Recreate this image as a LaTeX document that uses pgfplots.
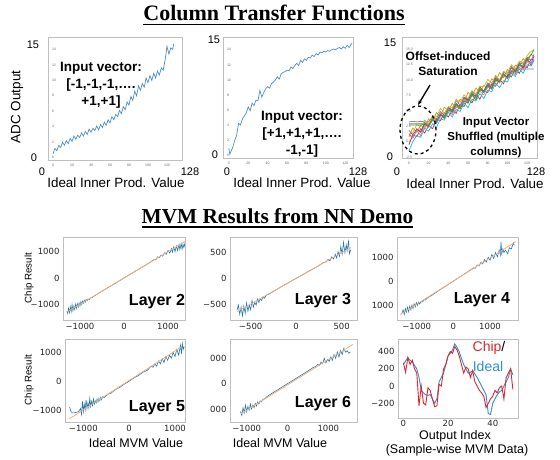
\documentclass[border=0pt]{standalone}
\usepackage{pgfplots}
\pgfplotsset{compat=1.18}
\usetikzlibrary{arrows.meta}
\usepackage{fontspec}
\setmainfont{Liberation Sans}
\newfontfamily\tnr{Liberation Serif}
\newfontfamily\dv{DejaVu Sans}
\definecolor{tblue}{HTML}{1F77B4}
\definecolor{lblue}{HTML}{4A8FC8}
\definecolor{torange}{HTML}{FF7F0E}
\definecolor{tgreen}{HTML}{2CA02C}
\definecolor{tred}{HTML}{D62728}
\definecolor{tpurple}{HTML}{9467BD}
\definecolor{tbrown}{HTML}{8C564B}
\definecolor{tpink}{HTML}{E377C2}
\definecolor{tgray}{HTML}{7F7F7F}
\definecolor{tolive}{HTML}{BCBD22}
\definecolor{tcyan}{HTML}{17BECF}
\definecolor{peach}{HTML}{F4B07A}
\definecolor{chipred}{HTML}{E0262E}
\definecolor{idealblue}{HTML}{2F8FCC}
\pgfplotsset{
  topax/.style={scale only axis, anchor=south west, axis line style={black!25},
    major tick length=0pt, /pgf/number format/assume math mode=true,
    tick label style={font=\fontsize{3.5}{4}\selectfont, text=black!60},
    yticklabel style={anchor=west, xshift=0.5pt},
    xticklabel style={yshift=-1pt}},
  botax/.style={scale only axis, anchor=south west, axis line style={black!25},
    major tick length=0pt,
    tick label style={font=\dv\fontsize{8.5}{9}\selectfont, text=black!85}},
  bl/.style={tblue, line width=0.6pt},
  or/.style={peach, line width=0.8pt},
  cl/.style={line width=0.7pt},
}
\begin{document}
\begin{tikzpicture}[x=1pt,y=1pt]
\useasboundingbox (0,0) rectangle (560,459);
% ---------- Panel 1 ----------
\begin{axis}[topax, at={(48pt,299pt)}, width=134pt, height=123pt,
  xmin=-5.3, xmax=135.8, ymin=-0.3, ymax=15.6,
  xtick={0,20,...,120}, ytick={0,2,...,14}]
\addplot[lblue, line width=0.7pt] coordinates {
(0,0.5)(2,1.2)(4,0.9)(6,1.6)(8,1.3)(10,2.0)(12,1.6)(14,2.2)(16,1.8)(18,2.5)
(20,2.1)(22,2.8)(24,2.4)(26,2.9)(28,2.6)(30,3.2)(32,2.8)(34,3.4)(36,3.0)(38,3.7)
(40,3.3)(42,3.8)(44,3.5)(46,4.1)(48,3.6)(50,4.3)(52,3.9)(54,4.6)(56,4.2)(58,4.9)
(60,4.5)(62,5.3)(64,4.9)(66,5.6)(68,5.3)(70,6.1)(72,5.7)(74,6.6)(76,6.2)(78,7.2)
(80,6.8)(82,7.9)(84,7.4)(86,8.6)(88,8.0)(90,9.3)(92,8.7)(94,9.6)(96,9.1)(98,10.3)
(100,9.7)(102,10.6)(104,10.0)(106,10.9)(108,10.3)(110,11.2)(112,10.7)(114,11.6)(116,11.3)(118,12.6)
(120,14.4)(122,13.4)(124,14.2)(126,14.0)(127,14.7)};
\end{axis}
% ---------- Panel 2 ----------
\begin{axis}[topax, at={(223pt,301pt)}, width=130pt, height=121pt,
  xmin=-6, xmax=128, ymin=-0.4, ymax=15.7,
  xtick={0,20,...,120}, ytick={0,2,...,14}]
\addplot[lblue, line width=0.7pt] coordinates {
(0,0.9)(1,0.1)(2,0.4)(4,1.0)(6,1.9)(8,2.6)(10,4.2)(12,4.0)(14,4.8)(16,5.2)(18,5.6)
(20,6.4)(22,5.9)(24,6.9)(26,6.6)(28,7.3)(30,7.2)(32,8.6)(34,7.7)(36,8.3)(38,8.8)
(40,9.1)(42,8.9)(44,9.5)(46,9.7)(48,10.0)(50,10.4)(52,10.1)(54,10.8)(56,11.0)(58,11.1)
(60,11.3)(62,11.2)(64,11.7)(66,11.5)(68,11.9)(70,12.2)(72,11.9)(74,12.6)(76,12.3)(78,12.8)
(80,12.6)(82,13.0)(84,12.9)(86,13.3)(88,13.1)(90,13.5)(92,13.3)(94,13.7)(96,13.6)(98,13.8)
(100,13.7)(102,13.9)(104,13.8)(106,14.0)(108,14.1)(110,14.0)(112,14.2)(114,14.3)(116,14.1)(118,14.4)
(120,14.2)(122,14.6)(124,14.3)(126,14.7)(127,14.9)};
\end{axis}
% ---------- Panel 3 ----------
\begin{axis}[topax, at={(402pt,301pt)}, width=135pt, height=121pt,
  xmin=-7, xmax=130, ymin=-2.66, ymax=17,
  xtick={0,20,...,120}, ytick={-2.5,0,2.5,...,15},
  yticklabel style={/pgf/number format/.cd, fixed, fixed zerofill, precision=1}]
\addplot[tblue, cl] coordinates {(0,1.3)(4,0.6)(8,1.9)(12,1.6)(16,3.1)(20,2.5)(24,3.7)(28,3.0)(32,4.3)(36,4.0)(40,5.5)(44,4.9)(48,6.0)(52,5.5)(56,7.0)(60,6.7)(64,8.0)(68,7.2)(72,8.5)(76,8.2)(80,9.5)(84,8.6)(88,10.0)(92,9.7)(96,11.0)(100,10.3)(104,11.5)(108,11.4)(112,12.8)(116,12.0)(120,13.3)(124,12.7)(127,13.9)};
\addplot[torange, cl] coordinates {(0,0.8)(4,2.2)(8,1.5)(12,2.7)(16,2.1)(20,3.7)(24,3.4)(28,4.7)(32,4.1)(36,5.6)(40,5.0)(44,6.2)(48,5.5)(52,6.9)(56,6.4)(60,8.0)(64,7.4)(68,8.7)(72,8.1)(76,9.1)(80,8.7)(84,10.2)(88,9.8)(92,11.2)(96,10.4)(100,11.7)(104,11.1)(108,12.4)(112,12.3)(116,13.5)(120,12.9)(124,14.2)(127,13.7)};
\addplot[tred, cl] coordinates {(0,-0.5)(4,1.1)(8,0.8)(12,2.1)(16,1.4)(20,2.6)(24,2.1)(28,3.7)(32,3.4)(36,4.7)(40,4.0)(44,5.1)(48,4.6)(52,6.1)(56,5.7)(60,7.0)(64,6.3)(68,7.6)(72,6.9)(76,8.3)(80,8.0)(84,9.4)(88,9.0)(92,10.1)(96,9.4)(100,10.8)(104,10.5)(108,11.9)(112,11.1)(116,12.3)(120,12.0)(124,13.4)(127,13.3)};
\addplot[tpurple, cl] coordinates {(0,3.2)(4,3.3)(8,3.2)(12,3.3)(16,3.2)(20,3.2)(24,4.1)(28,3.7)(32,4.9)(36,4.2)(40,5.5)(44,5.2)(48,6.7)(52,5.9)(56,7.2)(60,6.9)(64,8.2)(68,7.6)(72,8.9)(76,8.1)(80,9.5)(84,9.1)(88,10.6)(92,10.0)(96,11.3)(100,10.9)(104,12.2)(108,11.5)(112,12.8)(116,12.6)(120,13.7)(124,13.2)(127,14.2)};
\addplot[tbrown, cl] coordinates {(0,1.8)(4,1.1)(8,2.1)(12,1.5)(16,2.8)(20,2.4)(24,4.0)(28,3.4)(32,4.4)(36,4.0)(40,5.5)(44,5.1)(48,6.2)(52,5.5)(56,7.2)(60,6.8)(64,7.7)(68,7.3)(72,8.9)(76,8.2)(80,9.2)(84,8.8)(88,10.3)(92,9.9)(96,11.0)(100,10.5)(104,12.0)(108,11.4)(112,12.5)(116,11.9)(120,13.5)(124,12.4)(127,13.2)};
\addplot[tgray, cl] coordinates {(0,2.9)(4,2.9)(8,2.9)(12,2.9)(16,2.9)(20,2.9)(24,3.5)(28,3.3)(32,4.5)(36,4.0)(40,5.4)(44,4.7)(48,5.9)(52,5.4)(56,6.9)(60,6.5)(64,7.6)(68,7.1)(72,8.6)(76,8.0)(80,9.1)(84,8.6)(88,10.1)(92,9.7)(96,10.8)(100,10.3)(104,11.5)(108,11.4)(112,11.8)(116,11.8)(120,11.8)(124,11.8)(127,11.8)};
\addplot[tcyan, cl] coordinates {(0,-1.5)(4,0.0)(8,1.0)(12,0.7)(16,2.2)(20,1.7)(24,2.9)(28,2.3)(32,3.7)(36,3.5)(40,4.8)(44,4.0)(48,5.2)(52,4.9)(56,6.3)(60,5.5)(64,6.9)(68,6.6)(72,7.8)(76,7.0)(80,8.4)(84,8.1)(88,9.5)(92,8.8)(96,9.9)(100,9.7)(104,11.1)(108,10.6)(112,11.8)(116,11.1)(120,12.5)(124,12.3)(127,13.3)};
\addplot[tolive, cl] coordinates {(0,1.7)(4,1.4)(8,2.8)(12,2.4)(16,3.5)(20,2.8)(24,4.2)(28,4.0)(32,5.4)(36,4.6)(40,5.7)(44,5.5)(48,6.9)(52,6.4)(56,7.6)(60,7.0)(64,8.3)(68,7.7)(72,9.0)(76,8.9)(80,10.1)(84,9.5)(88,10.8)(92,10.0)(96,11.4)(100,11.2)(104,12.5)(108,11.8)(112,13.1)(116,12.8)(120,14.0)(124,14.7)(127,14.8)};
\addplot[tpink, cl] coordinates {(0,1.1)(4,0.6)(8,1.8)(12,1.0)(16,2.5)(20,2.3)(24,3.5)(28,2.9)(32,4.1)(36,3.8)(40,5.1)(44,4.4)(48,5.6)(52,5.5)(56,6.9)(60,6.2)(64,7.5)(68,7.2)(72,8.2)(76,7.6)(80,8.9)(84,8.5)(88,9.8)(92,9.5)(96,10.8)(100,10.2)(104,11.2)(108,10.9)(112,12.1)(116,11.6)(120,13.0)(124,12.7)(127,13.5)};
\addplot[tgreen, cl] coordinates {(0,2.7)(4,2.7)(8,2.7)(12,2.7)(16,2.8)(20,2.7)(24,3.5)(28,3.2)(32,4.5)(36,3.8)(40,5.1)(44,4.9)(48,6.2)(52,5.3)(56,6.6)(60,6.3)(64,7.6)(68,6.8)(72,8.5)(76,8.0)(80,9.1)(84,8.6)(88,10.1)(92,9.7)(96,11.0)(100,10.3)(104,11.4)(108,11.1)(112,12.4)(116,12.4)(120,13.5)(124,14.1)(127,15.0)};
\end{axis}
% ---------- Layer 2 ----------
\begin{axis}[botax, at={(63pt,139pt)}, width=122pt, height=83pt,
  xmin=-1386, xmax=1386, ymin=-1597, ymax=1559,
  xtick={-1000,0,1000}, xticklabels={−1000,0,1000},
  ytick={-1000,0,1000}, yticklabels={−1000,0,1000}]
\addplot[bl] coordinates {
(-1300,-1250)(-1280,-1350)(-1260,-1150)(-1240,-1320)(-1220,-1100)(-1200,-1280)(-1180,-1020)(-1160,-1250)
(-1140,-1080)(-1120,-1190)(-1100,-1000)(-1080,-1150)(-1060,-980)(-1040,-1100)(-1020,-950)(-1000,-1060)
(-980,-900)(-960,-1010)(-940,-880)(-920,-960)(-900,-850)(-880,-920)(-860,-820)(-840,-870)(-820,-800)
(-800,-830)(-760,-760)(-720,-740)(-680,-690)(-500,-500)(-200,-205)(0,0)(200,205)(400,400)(600,600)
(640,660)(680,700)(720,690)(760,800)(800,780)(840,870)(880,830)(920,960)(960,900)(1000,1050)
(1040,950)(1080,1120)(1100,980)(1130,1180)(1160,1000)(1190,1220)(1220,1050)(1250,1280)(1270,1080)
(1300,1300)(1320,1100)(1340,1280)(1360,1160)(1380,1300)(1400,1180)(1420,1250)};
\addplot[or] coordinates {(-1300,-1300)(1450,1450)};
\end{axis}
% ---------- Layer 3 ----------
\begin{axis}[botax, at={(230pt,139pt)}, width=127pt, height=83pt,
  xmin=-727, xmax=668, ymin=-812, ymax=806,
  xtick={-500,0,500}, xticklabels={−500,0,500},
  ytick={-500,0,500}, yticklabels={−500,0,500}]
\addplot[bl] coordinates {
(-650,-620)(-635,-520)(-620,-700)(-605,-560)(-590,-730)(-575,-540)(-560,-680)(-545,-480)(-530,-640)
(-515,-520)(-500,-610)(-485,-430)(-470,-560)(-455,-470)(-440,-520)(-425,-400)(-410,-470)(-395,-400)
(-380,-430)(-365,-360)(-350,-390)(-330,-330)(-300,-310)(-250,-255)(-150,-150)(0,0)(150,150)(250,250)
(300,310)(330,320)(350,370)(370,340)(390,420)(410,380)(430,470)(445,400)(460,520)(475,430)(490,620)
(505,470)(520,700)(535,500)(550,650)(560,540)(575,720)(585,480)(600,560)};
\addplot[or] coordinates {(-650,-650)(600,600)};
\end{axis}
% ---------- Layer 4 ----------
\begin{axis}[botax, at={(397pt,139pt)}, width=121pt, height=83pt,
  xmin=-1537, xmax=1763, ymin=-1629, ymax=1851,
  xtick={-1000,0,1000}, xticklabels={−1000,0,1000},
  ytick={-1000,0,1000}, yticklabels={1000,0,1000}]
\addplot[bl] coordinates {
(-1400,-1350)(-1370,-1200)(-1340,-1400)(-1310,-1150)(-1280,-1300)(-1250,-1100)(-1220,-1280)(-1190,-1050)
(-1160,-1200)(-1130,-1000)(-1100,-1150)(-1070,-950)(-1040,-1080)(-1010,-900)(-980,-1020)(-950,-880)
(-920,-960)(-880,-860)(-840,-870)(-800,-780)(-760,-790)(-700,-690)(-600,-610)(-400,-395)(-200,-200)
(0,0)(200,200)(400,400)(550,560)(600,540)(650,680)(700,640)(750,780)(800,720)(850,900)(900,800)
(950,1000)(1000,880)(1050,1120)(1100,950)(1150,1200)(1200,1020)(1250,1300)(1280,1100)(1300,1650)
(1320,1150)(1350,1350)(1380,1200)(1420,1300)(1480,1150)(1530,1400)(1580,1350)(1640,1600)(1660,1500)};
\addplot[or] coordinates {(-1450,-1400)(1700,1650)};
\end{axis}
% ---------- Layer 5 ----------
\begin{axis}[botax, at={(65pt,37pt)}, width=120pt, height=83pt,
  xmin=-1400, xmax=1218, ymin=-1416, ymax=1461,
  xtick={-1000,0,1000}, xticklabels={−1000,0,1000},
  ytick={-1000,0,1000}, yticklabels={−1000,0,1000}]
\addplot[bl] coordinates {
(-1300,-900)(-1270,-1050)(-1240,-1100)(-1200,-1100)(-1150,-1080)(-1100,-1050)(-1060,-950)(-1040,-1150)
(-1020,-700)(-1000,-1050)(-980,-800)(-960,-1000)(-940,-650)(-920,-950)(-900,-750)(-880,-930)(-860,-600)
(-840,-880)(-820,-700)(-800,-850)(-780,-620)(-760,-800)(-740,-680)(-720,-760)(-700,-620)(-680,-720)
(-660,-600)(-640,-680)(-620,-560)(-600,-640)(-580,-540)(-550,-570)(-500,-510)(-450,-440)(-400,-420)
(-300,-290)(-200,-210)(-100,-95)(0,0)(100,110)(200,190)(300,310)(400,380)(480,520)(520,480)(560,600)
(600,520)(640,700)(680,600)(720,780)(760,650)(800,850)(840,720)(880,900)(920,800)(960,1000)(1000,850)
(1040,1100)(1080,900)(1120,1250)(1140,950)(1160,1300)(1180,1100)(1200,1200)};
\addplot[or] coordinates {(-1300,-1300)(1150,1200)};
\end{axis}
% ---------- Layer 6 ----------
\begin{axis}[botax, at={(230pt,37pt)}, width=127pt, height=83pt,
  xmin=-1409, xmax=1703, ymin=-1514, ymax=1763,
  xtick={-1000,0,1000}, xticklabels={−1000,0,1000},
  ytick={-1000,0,1000}, yticklabels={000,0,000}]
\addplot[bl] coordinates {
(-1150,-1100)(-1120,-1250)(-1090,-950)(-1060,-1150)(-1030,-850)(-1000,-1100)(-970,-900)(-940,-1050)
(-910,-800)(-880,-1000)(-850,-850)(-820,-950)(-790,-780)(-760,-880)(-730,-720)(-700,-800)(-670,-680)
(-640,-720)(-600,-610)(-560,-600)(-500,-510)(-400,-400)(-300,-300)(-200,-200)(-100,-100)(0,0)(100,100)
(200,200)(300,300)(400,400)(500,500)(600,610)(700,690)(740,760)(780,720)(820,850)(860,780)(900,1000)
(940,820)(980,950)(1020,880)(1060,1050)(1100,920)(1140,1150)(1180,1000)(1220,1250)(1260,1050)
(1300,1300)(1340,1150)(1380,1400)(1420,1250)(1460,1300)(1500,1200)(1540,1250)};
\addplot[or] coordinates {(-1150,-1200)(1600,1550)};
\end{axis}
% ---------- Chip vs Ideal ----------
\begin{axis}[botax, at={(398pt,41pt)}, width=120pt, height=79pt,
  xmin=-2.4, xmax=51.3, ymin=-372, ymax=547,
  xtick={0,20,40}, xticklabels={0,20,40}, xticklabel style={inner sep=1.5pt},
  ytick={-200,0,200,400}, yticklabels={−200,0,200,400}]
\addplot[idealblue, line width=0.9pt] coordinates {
(0,250)(1,290)(2,330)(3,300)(4,280)(5,240)(6,200)(7,100)(8,-50)(9,-80)(10,-100)(11,-110)(12,-100)
(13,-150)(14,-200)(15,-150)(16,50)(17,100)(18,150)(19,250)(20,350)(21,380)(22,420)(23,490)(24,450)
(25,400)(26,320)(27,250)(28,200)(29,150)(30,160)(31,180)(32,140)(33,100)(34,50)(35,0)(36,-50)(37,-100)
(38,-320)(39,-330)(40,-200)(41,-150)(42,-100)(43,-70)(44,-50)(45,0)(46,50)(47,100)(48,200)(49,130)};
\addplot[chipred, line width=0.9pt] coordinates {
(0,270)(1,160)(2,330)(3,250)(4,300)(5,200)(6,150)(7,-230)(8,0)(9,-200)(10,-220)(11,-20)(12,-50)
(13,-150)(14,-240)(15,-230)(16,20)(17,0)(18,200)(19,250)(20,350)(21,400)(22,380)(23,460)(24,420)
(25,350)(26,250)(27,150)(28,220)(29,200)(30,100)(31,180)(32,50)(33,0)(34,-50)(35,-80)(36,-120)
(37,-250)(38,-200)(39,-150)(40,-120)(41,-50)(42,-80)(43,-20)(44,0)(45,-150)(46,100)(47,150)(48,200)(49,-40)};
\end{axis}
% ---------- Text annotations ----------
\node[font=\tnr\bfseries\fontsize{22}{22}\selectfont, anchor=base] at (274,438) {Column Transfer Functions};
\draw[line width=1.6pt] (143,434.5) -- (405,434.5);
\node[font=\tnr\bfseries\fontsize{21.3}{22}\selectfont, anchor=base] at (277.5,236) {MVM Results from NN Demo};
\draw[line width=1.6pt] (142,232) -- (413,232);
\begin{scope}[every node/.style={font=\fontsize{11}{11}\selectfont}]
\node at (33,414) {15}; \node at (34,301) {0}; \node at (42,287) {0}; \node at (190,287) {128};
\node at (214,419) {15}; \node at (215,304) {0}; \node at (227,287) {0}; \node at (358,287) {128};
\node at (390,416) {15}; \node at (390,302) {0}; \node at (397,287) {0}; \node at (536,287) {128};
\end{scope}
\node[rotate=90, font=\fontsize{13.5}{14}\selectfont] at (17,352) {ADC Output};
\node[font=\fontsize{13.4}{14}\selectfont] at (116,276) {Ideal Inner Prod. Value};
\node[font=\fontsize{13.4}{14}\selectfont] at (302,276) {Ideal Inner Prod. Value};
\node[font=\fontsize{13.4}{14}\selectfont] at (475,275) {Ideal Inner Prod. Value};
\node[font=\bfseries\fontsize{13.5}{17}\selectfont, align=center] at (101,374) {Input vector:\\{}[-1,-1,-1,….\\+1,+1]};
\node[font=\bfseries\fontsize{13.5}{17}\selectfont, align=center] at (302,325) {Input vector:\\{}[+1,+1,+1,….\\-1,-1]};
\node[font=\bfseries\fontsize{12}{15}\selectfont, align=center] at (448,395) {Offset-induced\\Saturation};
\node[font=\bfseries\fontsize{11.5}{15}\selectfont, align=center] at (496,321) {Input Vector\\Shuffled (multiple\\columns)};
\draw[line width=1.3pt, -{Stealth[length=5pt]}] (430,374) -- (418,354);
\draw[line width=1.3pt, dashed] (418,329) ellipse [x radius=18, y radius=24];
\node[rotate=90, font=\fontsize{9.7}{10}\selectfont] at (29,181) {Chip Result};
\node[rotate=90, font=\fontsize{9.7}{10}\selectfont] at (29,79) {Chip Result};
\node[font=\bfseries\fontsize{16}{16}\selectfont] at (157,157) {Layer 2};
\node[font=\bfseries\fontsize{16}{16}\selectfont] at (323,158) {Layer 3};
\node[font=\bfseries\fontsize{16}{16}\selectfont] at (482,159) {Layer 4};
\node[font=\bfseries\fontsize{16}{16}\selectfont] at (157,51) {Layer 5};
\node[font=\bfseries\fontsize{16}{16}\selectfont] at (323,55) {Layer 6};
\node[font=\fontsize{12.5}{13}\selectfont] at (136,16) {Ideal MVM Value};
\node[font=\fontsize{12.5}{13}\selectfont] at (280,16) {Ideal MVM Value};
\node[font=\fontsize{12.5}{13}\selectfont] at (455,22.5) {Output Index};
\node[font=\fontsize{12.5}{13}\selectfont] at (457,8.5) {(Sample-wise MVM Data)};
\node[font=\fontsize{14}{14}\selectfont] at (489,111) {\textcolor{chipred}{Chip}/};
\node[font=\fontsize{14}{14}\selectfont, text=idealblue] at (488,93) {Ideal};
\end{tikzpicture}
\end{document}
